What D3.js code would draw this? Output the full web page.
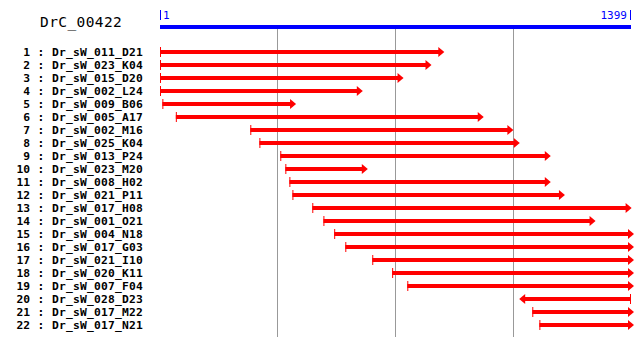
<!DOCTYPE html>
<html>
<head>
<meta charset="utf-8">
<script src="https://cdn.jsdelivr.net/npm/d3@7"></script>
<style>
  body { margin: 0; background: #fff; }
  svg { display: block; }
</style>
</head>
<body>
<div id="viz"></div>
<script>
// clone names, in plot order
var names = ["Dr_sW_011_D21", "Dr_sW_023_K04", "Dr_sW_015_D20", "Dr_sW_002_L24",
  "Dr_sW_009_B06", "Dr_sW_005_A17", "Dr_sW_002_M16", "Dr_sW_025_K04",
  "Dr_sW_013_P24", "Dr_sW_023_M20", "Dr_sW_008_H02", "Dr_sW_021_P11",
  "Dr_sW_017_H08", "Dr_sW_001_O21", "Dr_sW_004_N18", "Dr_sW_017_G03",
  "Dr_sW_021_I10", "Dr_sW_020_K11", "Dr_sW_007_F04", "Dr_sW_028_D23",
  "Dr_sW_017_M22", "Dr_sW_017_N21"];
// start / end along the contig (end < start means reverse strand)
var starts = [1, 1, 1, 1, 8, 48, 269, 296, 358, 373, 385, 394, 453, 486, 518, 551, 631, 690, 735, 1399, 1106, 1127];
var ends = [836, 798, 715, 594, 396, 953, 1041, 1060, 1152, 609, 1152, 1194, 1392, 1285, 1399, 1399, 1399, 1399, 1399, 1076, 1399, 1399];
var contig = "DrC_00422";
var contigLen = [1, 1399];
var gridTicks = [350, 700, 1050];

var width = 640, height = 346;

var svg = d3.select("#viz")
  .append("svg")
    .attr("width", width)
    .attr("height", height);

var x = d3.scaleLinear()
  .domain(contigLen)
  .range([160, 631]);

var y = d3.scalePoint()
  .domain(d3.range(names.length))
  .range([52, 325]);

// grid lines
svg.selectAll("line.grid")
  .data(gridTicks)
  .enter()
  .append("line")
    .attr("x1", function(d) { return Math.floor(x(d)) + 0.5; })
    .attr("x2", function(d) { return Math.floor(x(d)) + 0.5; })
    .attr("y1", 29)
    .attr("y2", 337)
    .attr("stroke", "#999")
    .attr("stroke-width", 1);

// contig bar
svg.append("rect")
  .attr("x", x(contigLen[0]))
  .attr("y", 25)
  .attr("width", x(contigLen[1]) - x(contigLen[0]))
  .attr("height", 4)
  .attr("fill", "#0000ff");

svg.append("text")
  .attr("x", 40)
  .attr("y", 27)
  .style("font-family", "DejaVu Sans Mono")
  .style("font-size", "14.5px")
  .style("letter-spacing", "0.4px")
  .text(contig);

// end markers
svg.append("rect")
  .attr("x", x(contigLen[0]))
  .attr("y", 10)
  .attr("width", 1)
  .attr("height", 10)
  .attr("fill", "#0000ff");
svg.append("rect")
  .attr("x", x(contigLen[1]) - 1)
  .attr("y", 10)
  .attr("width", 1)
  .attr("height", 10)
  .attr("fill", "#0000ff");
svg.append("text")
  .attr("x", x(contigLen[0]) + 3)
  .attr("y", 19)
  .attr("fill", "#0000ff")
  .style("font-family", "DejaVu Sans Mono")
  .style("font-size", "11px")
  .text(contigLen[0]);
svg.append("text")
  .attr("x", x(contigLen[1]) - 4)
  .attr("y", 19)
  .attr("text-anchor", "end")
  .attr("fill", "#0000ff")
  .style("font-family", "DejaVu Sans Mono")
  .style("font-size", "11px")
  .text(contigLen[1]);

// row labels
var rows = svg.selectAll("g.row")
  .data(names)
  .enter()
  .append("g")
    .attr("transform", function(d, i) { return "translate(0," + y(i) + ")"; })
    .style("font-family", "DejaVu Sans Mono")
    .style("font-weight", "bold")
    .style("font-size", "11.3px");

rows.append("text")
  .attr("x", 30)
  .attr("y", 4)
  .attr("text-anchor", "end")
  .text(function(d, i) { return i + 1; });
rows.append("text")
  .attr("x", 41)
  .attr("y", 4)
  .attr("text-anchor", "middle")
  .text(":");
rows.append("text")
  .attr("x", 52)
  .attr("y", 4)
  .style("letter-spacing", "0.2px")
  .text(function(d) { return d; });

// arrows
var red = "#ff0000";
rows.each(function(d, i) {
  var g = d3.select(this);
  var s = x(starts[i]), e = x(ends[i]);
  var dir = e >= s ? 1 : -1;
  g.append("rect")
    .attr("x", Math.min(s, e))
    .attr("y", -2)
    .attr("width", Math.abs(e - s))
    .attr("height", 4)
    .attr("fill", red);
  g.append("rect")
    .attr("x", dir > 0 ? s : s - 1)
    .attr("y", -5)
    .attr("width", 1)
    .attr("height", 10)
    .attr("fill", red);
  g.append("path")
    .attr("d", "M" + (e - 3 * dir) + ",-5L" + (e + 3 * dir) + ",0L" + (e - 3 * dir) + ",5Z")
    .attr("fill", red);
});
</script>
</body>
</html>
